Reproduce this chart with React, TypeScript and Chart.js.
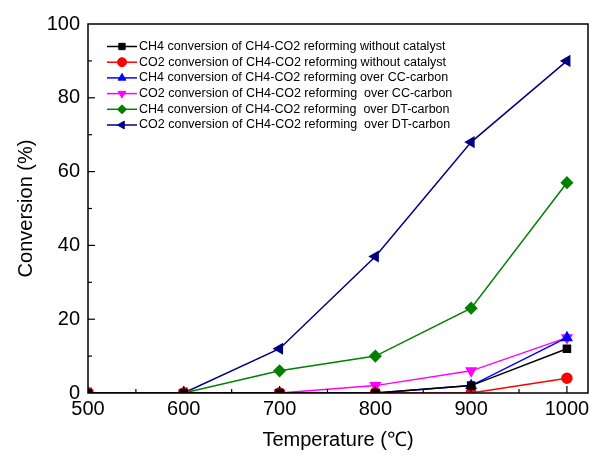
import React, { useEffect, useRef } from 'react';
import { Chart, registerables } from 'chart.js';
import { drawPoint } from 'chart.js/helpers';

Chart.register(...registerables);

const temperatures = [500, 600, 700, 800, 900, 1000];
const ch4NoCatalyst = [0, 0, 0, 0, 2, 12];
const co2NoCatalyst = [0, 0, 0, 0, 0, 4];
const ch4CC = [0, 0, 0, 0, 2, 15];
const co2CC = [0, 0, 0, 2, 6, 15];
const ch4DT = [0, 0, 6, 10, 23, 57];
const co2DT = [0, 0, 12, 37, 68, 90];

const seriesLabels = [
  'CH4 conversion of CH4-CO2 reforming without catalyst',
  'CO2 conversion of CH4-CO2 reforming without catalyst',
  'CH4 conversion of CH4-CO2 reforming over CC-carbon',
  'CO2 conversion of CH4-CO2 reforming  over CC-carbon',
  'CH4 conversion of CH4-CO2 reforming  over DT-carbon',
  'CO2 conversion of CH4-CO2 reforming  over DT-carbon',
];
const seriesValues = [ch4NoCatalyst, co2NoCatalyst, ch4CC, co2CC, ch4DT, co2DT];
const seriesColors = ['#000000', '#ff0000', '#0000ff', '#ff00ff', '#008000', '#000080'];
const seriesStyles = ['rect', 'circle', 'triangle', 'triangle', 'rectRot', 'triangle'];
const seriesRotations = [0, 0, 0, 180, 0, -90];
const seriesRadii = [5, 5, 5.5, 5.5, 5.5, 5.5];

const FONT = '"Liberation Sans", Arial, sans-serif';

const frameAndTicks = {
  id: 'frameAndTicks',
  afterDraw(chart: any) {
    const { ctx, chartArea: a } = chart;
    ctx.save();
    ctx.strokeStyle = '#000';
    ctx.lineWidth = 1.5;
    ctx.strokeRect(a.left, a.top, a.right - a.left, a.bottom - a.top);
    ctx.lineWidth = 1.2;
    const xs = chart.scales.x;
    xs.ticks.forEach((t: any) => {
      if (t.value <= xs.min || t.value > 1000) return;
      const px = xs.getPixelForValue(t.value);
      const len = t.value % 100 === 0 ? 7 : 4;
      ctx.beginPath();
      ctx.moveTo(px, a.bottom);
      ctx.lineTo(px, a.bottom - len);
      ctx.stroke();
    });
    const ys = chart.scales.y;
    ys.ticks.forEach((t: any) => {
      if (t.value <= ys.min || t.value >= ys.max) return;
      const py = ys.getPixelForValue(t.value);
      const len = t.value % 20 === 0 ? 7 : 4;
      ctx.beginPath();
      ctx.moveTo(a.left, py);
      ctx.lineTo(a.left + len, py);
      ctx.stroke();
    });
    ctx.restore();
  },
};

const lineLegend = {
  id: 'lineLegend',
  afterDraw(chart: any) {
    const { ctx, chartArea: a } = chart;
    ctx.save();
    ctx.font = `12.5px ${FONT}`;
    ctx.textBaseline = 'middle';
    ctx.textAlign = 'left';
    chart.data.datasets.forEach((ds: any, i: number) => {
      const y = a.top + 22.5 + i * 15.7;
      const x0 = a.left + 19;
      const x1 = a.left + 49;
      ctx.strokeStyle = ds.borderColor;
      ctx.lineWidth = 1.5;
      ctx.beginPath();
      ctx.moveTo(x0, y);
      ctx.lineTo(x1, y);
      ctx.stroke();
      ctx.fillStyle = ds.pointBackgroundColor;
      ctx.strokeStyle = ds.pointBorderColor;
      ctx.lineWidth = 1;
      drawPoint(ctx, { pointStyle: ds.pointStyle, rotation: ds.pointRotation, radius: 4.5, borderWidth: 1 }, (x0 + x1) / 2, y);
      ctx.fillStyle = '#000';
      ctx.fillText(ds.label, x1 + 2, y);
    });
    ctx.restore();
  },
};

export default function App() {
  const ref = useRef<HTMLCanvasElement>(null);
  useEffect(() => {
    if (!ref.current) return;
    const datasets = seriesValues.map((vals, i) => ({
      label: seriesLabels[i],
      data: temperatures.map((t, j) => ({ x: t, y: vals[j] })),
      borderColor: seriesColors[i],
      backgroundColor: seriesColors[i],
      pointBackgroundColor: seriesColors[i],
      pointBorderColor: seriesColors[i],
      pointStyle: seriesStyles[i],
      pointRotation: seriesRotations[i],
      pointRadius: seriesRadii[i],
      borderWidth: 1.5,
      tension: 0,
    }));
    const chart = new Chart(ref.current, {
      type: 'line',
      data: { datasets },
      options: {
        animation: false,
        responsive: false,
        devicePixelRatio: 1,
        color: '#000',
        layout: { autoPadding: false, padding: { top: 24, right: 2, left: 0, bottom: 0 } },
        plugins: { legend: { display: false }, tooltip: { enabled: false } },
        scales: {
          x: {
            type: 'linear',
            min: 500,
            max: 1022,
            afterFit: (s: any) => { s.height = 63; s.paddingRight = 0; s.paddingLeft = 0; },
            afterBuildTicks: (s: any) => {
              s.ticks = s.ticks.filter((t: any) => t.value <= 1000);
            },
            grid: { display: false, drawTicks: false },
            border: { display: false },
            ticks: {
              stepSize: 50,
              includeBounds: false,
              autoSkip: false,
              maxRotation: 0,
              padding: 4,
              color: '#000',
              font: { family: FONT, size: 20 },
              callback: (v: any) => (v % 100 === 0 ? String(v) : ''),
            },
            title: {
              display: true,
              text: 'Temperature (℃)',
              color: '#000',
              font: { family: FONT, size: 20 },
              padding: { top: 0, bottom: 4 },
            },
          },
          y: {
            min: 0,
            max: 100,
            afterFit: (s: any) => { s.width = 88; s.paddingTop = 0; s.paddingBottom = 0; },
            grid: { display: false, drawTicks: false },
            border: { display: false },
            ticks: {
              stepSize: 10,
              autoSkip: false,
              padding: 8,
              color: '#000',
              font: { family: FONT, size: 20 },
              callback: (v: any) => (v % 20 === 0 ? String(v) : ''),
            },
            title: {
              display: true,
              text: 'Conversion (%)',
              color: '#000',
              font: { family: FONT, size: 20 },
              padding: { top: 14, bottom: 0 },
            },
          },
        },
      },
      plugins: [frameAndTicks, lineLegend],
    } as any);
    return () => chart.destroy();
  }, []);
  return (
    <div style={{ position: 'fixed', left: 0, top: 0, width: 590, height: 456, background: '#fff' }}>
      <canvas ref={ref} width={590} height={456} style={{ width: 590, height: 456 }} />
    </div>
  );
}
